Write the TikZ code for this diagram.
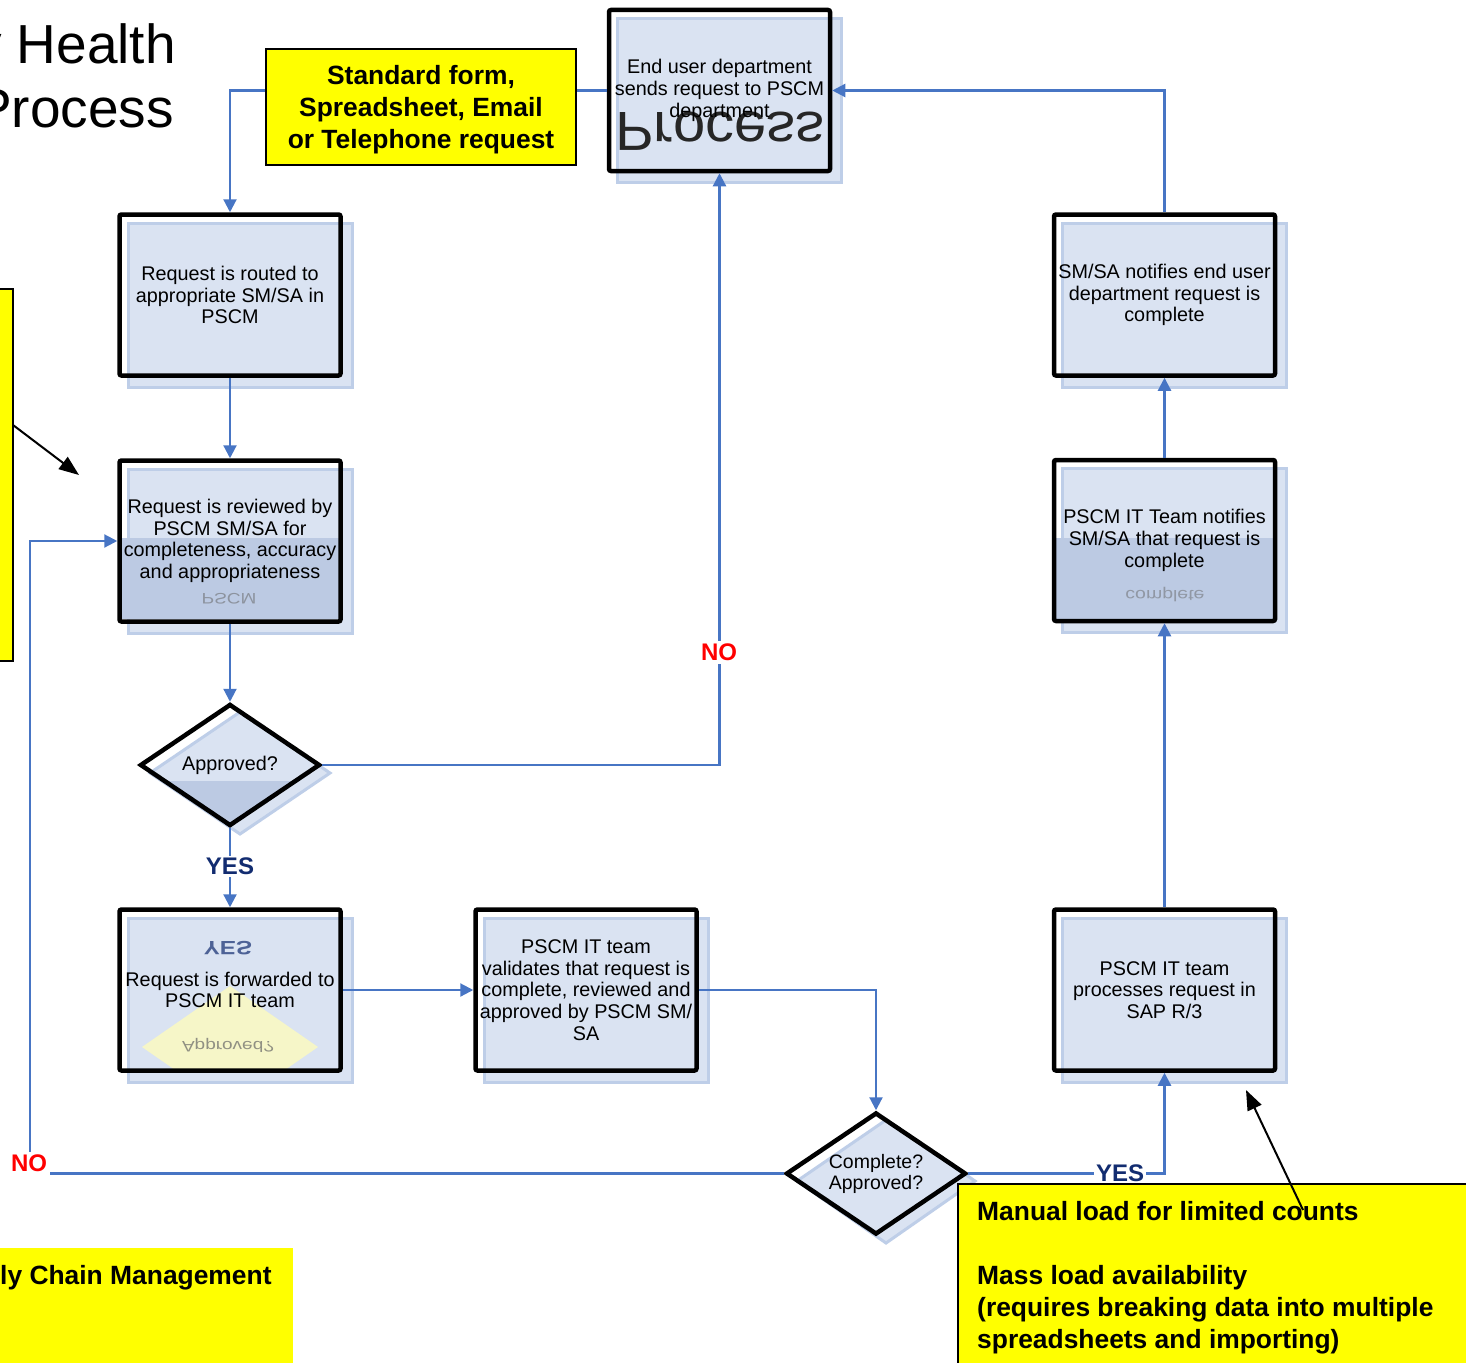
\documentclass[tikz,border=0pt]{standalone}
\usepackage{fontspec}
\setmainfont{Liberation Sans}
\usetikzlibrary{arrows.meta,shapes.geometric}
\definecolor{boxfill}{RGB}{218,227,242}
\definecolor{boxedge}{RGB}{190,206,232}
\definecolor{boxdark}{RGB}{188,202,227}
\definecolor{flowblue}{RGB}{71,117,196}
\definecolor{yesblue}{RGB}{18,44,112}
\definecolor{noteyellow}{RGB}{255,255,0}
\definecolor{paleyellow}{RGB}{246,246,200}
\newcommand\boxfont{\fontsize{19.8}{21.7}\selectfont}
\newcommand\notefont{\bfseries\fontsize{26.4}{32}\selectfont}
\newcommand\labfont{\bfseries\fontsize{24}{26}\selectfont}
\newcommand\pshadow[2]{\filldraw[fill=boxfill,draw=boxedge,line width=3pt] ({#1-102},{#2-72}) rectangle ({#1+122},{#2+92});}
\begin{document}
\begin{tikzpicture}[x=1pt,y=-1pt,
 procbox/.style={draw=black,line width=4.5pt,rounded corners=2pt,minimum width=221pt,minimum height=161pt,inner sep=0pt,align=center,font=\boxfont},
 decision/.style={diamond,draw=black,line width=4.5pt,minimum width=180pt,minimum height=122pt,inner sep=0pt,shape aspect=1.47,align=center,font=\boxfont},
 flow/.style={draw=flowblue,line width=2.2pt,-{Triangle[length=13pt,width=13pt]}},
 pointer/.style={draw=black,line width=2pt,-{Triangle[length=20pt,width=15pt]}},
 note/.style={draw=black,line width=2pt,fill=noteyellow},
 nolab/.style={font=\labfont,text=red,fill=white,inner sep=3pt},
 yeslab/.style={font=\labfont,text=yesblue,fill=white,inner sep=2pt},
 mirror/.style={yscale=#1,transform shape,inner sep=0pt,anchor=base},
]
\useasboundingbox (0,0) rectangle (1466,1362);
\clip (0,0) rectangle (1466,1362);
\fill[white] (0,0) rectangle (1466,1362);

% title
\node[anchor=base east,inner sep=0pt,font=\fontsize{55}{60}\selectfont] (titleA) at (176,64) {y Health};
\node[anchor=base east,inner sep=0pt,font=\fontsize{55}{60}\selectfont] (titleB) at (174,128) {Process};

% shadows of process boxes
\pshadow{719.5}{90.5}
\pshadow{230}{295}
\pshadow{230}{541}
\pshadow{230}{990}
\pshadow{586}{990}
\pshadow{1164.5}{990}
\pshadow{1164.5}{540.5}
\pshadow{1164.5}{295}

% shadows of decisions
\filldraw[fill=boxfill,draw=boxedge,line width=3pt] (150,773) -- (240,712) -- (330,773) -- (240,834) -- cycle;
\filldraw[fill=boxfill,draw=boxedge,line width=3pt] (797,1181) -- (886,1120) -- (975,1181) -- (886,1243) -- cycle;

% darker bands
\fill[boxdark] (118,538) rectangle (342,619);
\fill[boxdark] (1052,538) rectangle (1277,619);
\begin{scope}
 \clip (150,773) -- (240,712) -- (330,773) -- (240,834) -- cycle;
 \clip (140,765) -- (230,704) -- (320,765) -- (230,826) -- cycle;
 \fill[boxdark] (130,781) rectangle (340,840);
\end{scope}

% reflections
\begin{scope}
 \clip (120,910) rectangle (340,1070);
 \fill[paleyellow] (142,1047) -- (230,986) -- (318,1047) -- (230,1108) -- cycle;
\end{scope}
\node[mirror=-0.95,font=\fontsize{58}{60}\selectfont,text=black!85] (reflProcess) at (720,113) {Process};
\node[mirror=-0.8,font=\fontsize{19}{20}\selectfont,text=black!60,opacity=.55] (reflPSCM) at (229,593) {PSCM};
\node[mirror=-0.8,font=\labfont,text=yesblue,opacity=.7] (reflYES) at (228,941) {YES};
\node[mirror=-0.8,font=\fontsize{19}{20}\selectfont,text=black!60,opacity=.7] (reflApproved) at (228,1041) {Approved?};
\node[mirror=-0.8,font=\fontsize{19.5}{20}\selectfont,text=black!60,opacity=.5] (reflComplete) at (1165,590) {complete};

% process boxes
\node[procbox] (enduser) at (719.5,90.5) {End user department\\sends request to PSCM\\department};
\node[procbox] (routed) at (230,295) {Request is routed to\\appropriate SM/SA in\\PSCM};
\node[procbox] (reviewed) at (230,541) {Request is reviewed by\\PSCM SM/SA for\\completeness, accuracy\\and appropriateness};
\node[procbox] (forward) at (230,990) {Request is forwarded to\\PSCM IT team};
\node[procbox] (validate) at (586,990) {PSCM IT team\\validates that request is\\complete, reviewed and\\approved by PSCM SM/\\SA};
\node[procbox] (sap) at (1164.5,990) {PSCM IT team\\processes request in\\SAP R/3};
\node[procbox] (itnotify) at (1164.5,540.5) {PSCM IT Team notifies\\SM/SA that request is\\complete};
\node[procbox] (usernotify) at (1164.5,295) {SM/SA notifies end user\\department request is\\complete};

% decisions
\node[decision] (approved) at (230,765) {Approved?};
\node[decision,font=\fontsize{19.5}{21}\selectfont] (complete) at (876,1173.5) {Complete?\\Approved?};

% connectors
\draw[flow] (enduser.west) -| (routed.north);
\draw[flow] (routed.south) -- (reviewed.north);
\draw[flow] (reviewed.south) -- (approved.north);
\draw[flow] (approved.east) -| (enduser.south);
\draw[flow] (approved.south) -- (forward.north);
\draw[flow] (forward.east) -- (validate.west);
\draw[flow] (validate.east) -| (complete.north);
\coordinate (nocorner) at (30,1173.5);
\draw[flow] (complete.west) -- (nocorner) |- (reviewed.west);
\draw[flow] (complete.east) -| (sap.south);
\draw[flow] (sap.north) -- (itnotify.south);
\draw[flow] (itnotify.north) -- (usernotify.south);
\draw[flow] (usernotify.north) |- (enduser.east);

% labels
\node[nolab] (noA) at (719,652) {NO};
\node[yeslab] (yesA) at (230,866) {YES};
\node[nolab] (noB) at (29,1163) {NO};
\node[yeslab] (yesB) at (1120,1173) {YES};

% yellow notes
\node[note,line width=2.5pt,minimum width=310pt,minimum height=116pt,align=center,font=\notefont,inner sep=0pt,text depth=0pt] (formnote) at (421,107) {Standard form,\\Spreadsheet, Email\\or Telephone request};
\node[note,minimum width=40pt,minimum height=372pt] (leftnote) at (-7,475) {};
\node[fill=noteyellow,minimum width=300pt,minimum height=125pt,anchor=north west,inner sep=0pt] (supplynote) at (-7,1248) {};
\node[anchor=base west,inner sep=0pt,font=\notefont] (supplytext) at (0,1284.5) {ly Chain Management};
\node[note,anchor=north west,minimum width=530pt,minimum height=200pt] (loadnote) at (957,1183) {};
\node[anchor=north west,inner sep=0pt,font=\notefont,align=left] (loadtext) at (977,1201.5) {Manual load for limited counts\\[32pt]Mass load availability\\(requires breaking data into multiple\\spreadsheets and importing)};

% pointers
\coordinate (ptrAs) at (13,425);
\coordinate (ptrAe) at (79,475);
\draw[pointer] (ptrAs) -- (ptrAe);
\coordinate (ptrBs) at (1303,1210);
\coordinate (ptrBe) at (1246,1090);
\draw[pointer] (ptrBs) -- (ptrBe);
\end{tikzpicture}
\end{document}
